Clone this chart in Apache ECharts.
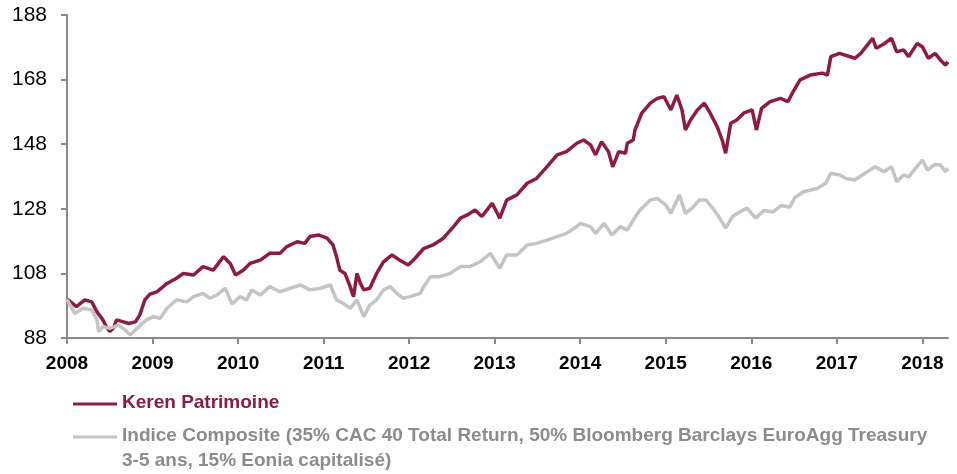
<!DOCTYPE html>
<html>
<head>
<meta charset="utf-8">
<script src="https://cdn.jsdelivr.net/npm/echarts@6/dist/echarts.min.js"></script>
<style>
  html, body { margin: 0; padding: 0; background: #fff; }
  #chart { width: 957px; height: 474px; }
</style>
</head>
<body>
<div id="chart"></div>
<script>
// x = année décimale
const kerenT = [2008.00, 2008.05, 2008.11, 2008.16, 2008.21, 2008.29, 2008.35, 2008.42, 2008.46, 2008.50,
  2008.54, 2008.58, 2008.66, 2008.72, 2008.80, 2008.85, 2008.91, 2008.97, 2009.05, 2009.17,
  2009.28, 2009.36, 2009.48, 2009.59, 2009.71, 2009.83, 2009.91, 2009.97, 2010.06, 2010.14,
  2010.26, 2010.37, 2010.49, 2010.57, 2010.69, 2010.78, 2010.84, 2010.94, 2011.04, 2011.11,
  2011.15, 2011.19, 2011.25, 2011.31, 2011.35, 2011.39, 2011.43, 2011.47, 2011.54, 2011.62,
  2011.70, 2011.80, 2011.89, 2011.99, 2012.07, 2012.17, 2012.28, 2012.40, 2012.52, 2012.60,
  2012.68, 2012.77, 2012.85, 2012.97, 2013.06, 2013.14, 2013.26, 2013.38, 2013.49, 2013.61,
  2013.73, 2013.84, 2013.96, 2014.04, 2014.12, 2014.18, 2014.25, 2014.33, 2014.38, 2014.45,
  2014.53, 2014.55, 2014.62, 2014.64, 2014.72, 2014.82, 2014.90, 2014.98, 2015.06, 2015.13,
  2015.19, 2015.23, 2015.29, 2015.37, 2015.45, 2015.52, 2015.60, 2015.66, 2015.70, 2015.76,
  2015.83, 2015.91, 2016.01, 2016.06, 2016.12, 2016.22, 2016.34, 2016.43, 2016.49, 2016.57,
  2016.69, 2016.83, 2016.89, 2016.93, 2017.03, 2017.13, 2017.21, 2017.28, 2017.42, 2017.46,
  2017.56, 2017.64, 2017.70, 2017.78, 2017.84, 2017.94, 2018.00, 2018.07, 2018.15, 2018.21,
  2018.27, 2018.30];
const kerenV = [100.0, 99.0, 97.7, 98.8, 99.8, 99.2, 96.1, 93.6, 91.5, 90.0,
  91.0, 93.6, 93.0, 92.5, 93.0, 95.1, 99.8, 101.6, 102.3, 104.9,
  106.5, 108.0, 107.5, 110.1, 109.0, 113.2, 111.0, 107.5, 109.0, 111.1,
  112.1, 114.2, 114.2, 116.3, 117.8, 117.3, 119.4, 119.9, 118.9, 116.8,
  113.2, 109.0, 108.0, 103.9, 100.8, 108.0, 104.9, 102.9, 103.4, 108.0,
  111.6, 113.7, 112.1, 110.6, 112.7, 115.7, 116.8, 118.9, 122.5, 125.1,
  126.1, 127.6, 125.6, 129.7, 125.1, 130.7, 132.3, 135.9, 137.4, 141.0,
  144.7, 145.7, 148.3, 149.3, 147.8, 144.7, 148.8, 145.7, 141.0, 145.7,
  145.2, 148.3, 149.3, 152.4, 157.6, 160.7, 162.2, 162.7, 158.6, 163.2,
  158.6, 152.4, 155.5, 158.6, 160.7, 157.6, 153.5, 149.3, 145.2, 154.5,
  155.5, 157.6, 158.6, 152.4, 159.1, 161.2, 162.2, 161.2, 164.3, 167.9,
  169.4, 170.0, 169.4, 175.1, 176.1, 175.3, 174.6, 176.1, 180.8, 177.7,
  179.2, 180.8, 176.6, 177.2, 175.1, 179.2, 178.2, 174.6, 176.1, 174.1,
  172.5, 173.5];

const indiceT = [2008.00, 2008.04, 2008.09, 2008.19, 2008.29, 2008.35, 2008.37, 2008.42, 2008.50, 2008.60,
  2008.68, 2008.74, 2008.82, 2008.93, 2009.01, 2009.09, 2009.17, 2009.28, 2009.40, 2009.48,
  2009.59, 2009.67, 2009.75, 2009.85, 2009.93, 2010.02, 2010.10, 2010.16, 2010.26, 2010.37,
  2010.49, 2010.61, 2010.73, 2010.84, 2010.96, 2011.08, 2011.15, 2011.23, 2011.31, 2011.39,
  2011.47, 2011.54, 2011.62, 2011.70, 2011.78, 2011.86, 2011.93, 2012.01, 2012.13, 2012.17,
  2012.25, 2012.36, 2012.48, 2012.60, 2012.71, 2012.83, 2012.95, 2013.06, 2013.14, 2013.26,
  2013.38, 2013.49, 2013.61, 2013.73, 2013.84, 2013.96, 2014.00, 2014.12, 2014.18, 2014.28,
  2014.37, 2014.47, 2014.55, 2014.62, 2014.70, 2014.82, 2014.90, 2015.00, 2015.06, 2015.16,
  2015.23, 2015.31, 2015.39, 2015.47, 2015.55, 2015.62, 2015.70, 2015.78, 2015.87, 2015.95,
  2016.05, 2016.15, 2016.25, 2016.35, 2016.45, 2016.51, 2016.61, 2016.77, 2016.87, 2016.93,
  2017.03, 2017.11, 2017.21, 2017.33, 2017.45, 2017.55, 2017.64, 2017.70, 2017.78, 2017.84,
  2017.92, 2018.00, 2018.06, 2018.14, 2018.21, 2018.27, 2018.30];
const indiceV = [100.0, 98.0, 95.6, 97.2, 96.7, 93.6, 90.0, 91.5, 91.0, 92.0,
  90.5, 88.9, 91.0, 93.6, 94.6, 94.1, 97.2, 99.8, 99.2, 100.8,
  101.8, 100.3, 101.3, 103.4, 98.5, 100.8, 99.8, 102.9, 101.3, 103.9,
  102.3, 103.4, 104.4, 102.9, 103.4, 104.4, 99.8, 98.7, 97.2, 99.8,
  94.6, 98.2, 99.8, 102.9, 103.9, 101.8, 100.3, 100.8, 101.8, 103.9,
  107.0, 107.0, 108.0, 110.1, 110.1, 111.6, 114.2, 109.6, 113.7, 113.7,
  116.8, 117.3, 118.3, 119.4, 120.4, 122.5, 123.5, 122.5, 120.4, 123.5,
  119.9, 122.5, 121.4, 124.5, 127.6, 130.7, 131.2, 129.2, 126.6, 132.3,
  126.6, 128.2, 130.7, 130.7, 128.2, 125.6, 122.0, 125.6, 127.1, 128.2,
  125.1, 127.5, 127.0, 129.0, 128.5, 131.5, 133.3, 134.3, 135.9, 139.0,
  138.5, 137.4, 136.9, 139.0, 141.0, 139.5, 141.0, 136.4, 138.5, 137.9,
  140.5, 143.1, 140.0, 141.6, 141.6, 139.5, 140.5];

const yearTicks = [2008, 2009, 2010, 2011, 2012, 2013, 2014, 2015, 2016, 2017, 2018];
const yTicks = [88, 108, 128, 148, 168, 188];

const seriesNames = ['Keren Patrimoine',
  'Indice Composite (35% CAC 40 Total Return, 50% Bloomberg Barclays EuroAgg Treasury',
  '3-5 ans, 15% Eonia capitalisé)'];

const RED = '#8e1b43';
const GREY = '#c4c4c4';
const FONT = '"Liberation Sans", Arial, sans-serif';

function pairs(t, v) {
  return t.map((x, i) => [x, v[i]]);
}

const chart = echarts.init(document.getElementById('chart'), null, { renderer: 'canvas' });

const option = {
  backgroundColor: '#fff',
  animation: false,
  grid: { left: 67, right: 9, top: 15, bottom: 136, containLabel: false },
  xAxis: {
    type: 'value',
    min: 2008,
    max: 2018.30,
    axisLine: { show: true, lineStyle: { color: '#8a8a8a', width: 2 } },
    axisTick: { show: true, length: 6, customValues: yearTicks, lineStyle: { color: '#8a8a8a', width: 2 } },
    axisLabel: {
      customValues: yearTicks,
      margin: 16,
      color: '#000',
      fontFamily: FONT,
      fontWeight: 'bold',
      fontSize: 19,
      formatter: v => String(Math.round(v))
    },
    splitLine: { show: false }
  },
  yAxis: {
    type: 'value',
    min: 88,
    max: 188,
    axisLine: { show: true, lineStyle: { color: '#8a8a8a', width: 2 } },
    axisTick: { show: true, length: 6, customValues: yTicks, lineStyle: { color: '#8a8a8a', width: 2 } },
    axisLabel: {
      customValues: yTicks,
      margin: 20,
      color: '#000',
      fontFamily: FONT,
      fontSize: 21
    },
    splitLine: { show: false }
  },
  series: [
    {
      name: seriesNames[0],
      type: 'line',
      data: pairs(kerenT, kerenV),
      showSymbol: false,
      lineStyle: { color: RED, width: 3.5 },
      itemStyle: { color: RED },
      z: 2
    },
    {
      name: seriesNames[1],
      type: 'line',
      data: pairs(indiceT, indiceV),
      showSymbol: false,
      lineStyle: { color: GREY, width: 3.5 },
      itemStyle: { color: GREY },
      z: 3
    }
  ],
  // légende en bas à gauche
  graphic: [
    { type: 'line', shape: { x1: 73, y1: 404, x2: 117, y2: 404 }, style: { stroke: RED, lineWidth: 3 } },
    { type: 'text', left: 122, top: 393, style: { text: seriesNames[0], fill: RED, font: 'bold 19px ' + FONT } },
    { type: 'line', shape: { x1: 73, y1: 437, x2: 117, y2: 437 }, style: { stroke: GREY, lineWidth: 3 } },
    { type: 'text', left: 122, top: 426, style: { text: seriesNames[1], fill: '#8c8c8c', font: 'bold 19px ' + FONT } },
    { type: 'text', left: 122, top: 451, style: { text: seriesNames[2], fill: '#8c8c8c', font: 'bold 19px ' + FONT } }
  ]
};

chart.setOption(option);
</script>
</body>
</html>
